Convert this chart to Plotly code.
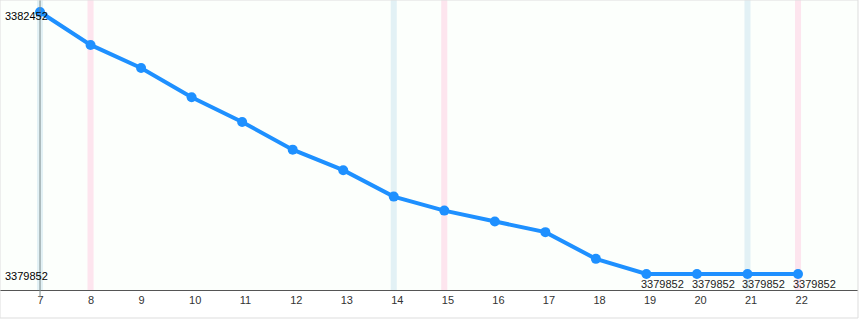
import plotly.graph_objects as go

x_vals = [7, 8, 9, 10, 11, 12, 13, 14, 15, 16, 17, 18, 19, 20, 21, 22]
y_vals = [3382452, 3382125, 3381896, 3381606, 3381361, 3381086, 3380882, 3380620,
          3380481, 3380372, 3380267, 3380002, 3379852, 3379852, 3379852, 3379852]
point_labels = ["", "", "", "", "", "", "", "", "", "", "", "",
                "3379852", "3379852", "3379852", "3379852"]
y_tick_vals = [3379852, 3382452]
blue_bands = [7, 14, 21]
pink_bands = [8, 15, 22]

FONT = "Liberation Sans, Arial, sans-serif"

fig = go.Figure()
fig.add_trace(go.Scatter(
    x=x_vals, y=y_vals, mode="lines+markers",
    line=dict(color="#1e90ff", width=4),
    marker=dict(color="#1e90ff", size=10),
    cliponaxis=False, hoverinfo="x+y",
))

shapes = []
for b in blue_bands:
    shapes.append(dict(type="rect", xref="x", yref="paper", x0=b - 0.06, x1=b + 0.06,
                       y0=0, y1=1, fillcolor="#e2f1f5", line=dict(width=0), layer="below"))
for b in pink_bands:
    shapes.append(dict(type="rect", xref="x", yref="paper", x0=b - 0.06, x1=b + 0.06,
                       y0=0, y1=1, fillcolor="#fde5ee", line=dict(width=0), layer="below"))
# y axis line at first category
shapes.append(dict(type="line", xref="x", yref="paper", x0=x_vals[0], x1=x_vals[0],
                   y0=-0.025, y1=1, line=dict(color="#7a8a8a", width=1)))
# outer border
shapes.append(dict(type="rect", xref="paper", yref="paper", x0=0, x1=1.0,
                   y0=-0.0966, y1=1, line=dict(color="#dddddd", width=1),
                   fillcolor="rgba(0,0,0,0)"))

annotations = []
for v in y_tick_vals:
    annotations.append(dict(
        xref="paper", yref="y", x=0, y=v, xanchor="left", yanchor="middle",
        text=str(v), showarrow=False, xshift=3,
        yshift=(-4 if v == max(y_tick_vals) else -2),
        font=dict(family=FONT, size=11, color="#000"),
    ))
for xv, yv, lab in zip(x_vals, y_vals, point_labels):
    if lab:
        annotations.append(dict(
            xref="x", yref="y", x=xv, y=yv, xanchor="left", yanchor="middle",
            text=lab, showarrow=False, xshift=-7, yshift=-10,
            font=dict(family=FONT, size=11, color="#222"),
        ))

fig.update_layout(
    width=860, height=320,
    margin=dict(l=0, r=2, t=0, b=30),
    paper_bgcolor="#ffffff",
    plot_bgcolor="#fcfffc",
    showlegend=False,
    shapes=shapes,
    annotations=annotations,
    xaxis=dict(
        range=[6.208, 23.187], tickmode="array", tickvals=x_vals,
        ticktext=[str(v) for v in x_vals], showgrid=False, zeroline=False,
        showline=True, linecolor="#555555", linewidth=1, ticks="",
        ticklabelposition="outside right", ticklabelshift=-3,
        tickfont=dict(family=FONT, size=11, color="#333"),
    ),
    yaxis=dict(
        range=[3379693, 3382571], showgrid=False, zeroline=False,
        showticklabels=False, showline=False, ticks="",
    ),
)

fig.write_html("out.html")
